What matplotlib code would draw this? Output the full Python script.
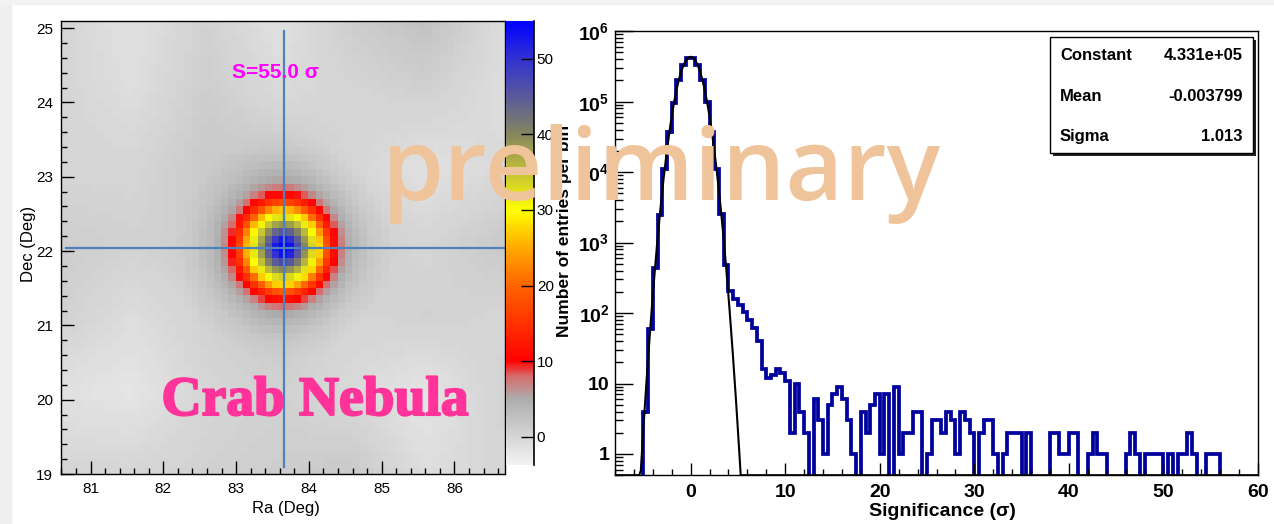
import numpy as np
import matplotlib.pyplot as plt
import matplotlib.patheffects as pe
from matplotlib.colors import LinearSegmentedColormap, Normalize
from matplotlib.patches import Rectangle
from matplotlib.ticker import MultipleLocator, LogLocator, NullFormatter

plt.rcParams['font.family'] = ['Liberation Sans', 'DejaVu Sans']
plt.rcParams['mathtext.fontset'] = 'custom'
plt.rcParams['mathtext.rm'] = 'Liberation Sans'
plt.rcParams['mathtext.bf'] = 'Liberation Sans:bold'

W, H = 1274, 524

# ---------------- sky map around the Crab ----------------
ra_range = (80.6, 86.7)
dec_range = (19.0, 25.1)
bin_deg = 0.1

crab_ra, crab_dec = 83.66, 22.04
peak_sigma = 55.0

# radial profile of the source excess (distance in deg -> sigma)
src_r = [0.0, 0.1, 0.2, 0.3, 0.4, 0.5, 0.55, 0.62, 0.7, 0.78, 0.88, 1.0, 1.2, 1.5]
src_sig = [55.0, 52, 45, 38, 32, 26, 21, 15, 10, 6.5, 4, 2.5, 1, 0]

# slowly varying background significance, coarse nodes (rows from top)
bg_ra = [80.6, 81.6, 82.6, 83.6, 84.6, 85.6, 86.7]
bg_dec = [25.1, 24.1, 23.1, 22.1, 21.1, 20.1, 19.0]
bg_sig = [
    [0.0, -1.5, 0.5, -1.5, 1.0, 2.5, -1.0],
    [0.0, -1.0, 1.0, -0.5, 0.0, 0.5, -1.0],
    [0.0, 0.0, 1.5, 2.0, 0.0, -1.5, -0.5],
    [1.0, 0.5, 1.0, 1.0, 1.0, 0.0, 1.5],
    [0.5, -1.0, 0.5, 1.5, 0.0, 0.5, 0.0],
    [-1.5, -2.0, 0.0, 0.5, -0.5, -2.0, 0.5],
    [0.0, 0.0, 0.5, 1.0, 1.5, -1.0, 0.0],
]

# palette of the significance scale
cmap_levels = [-3.7, 0, 5, 8, 10, 15, 20, 25, 30, 35, 40, 45, 50, 55]
cmap_colors = ['#f2f2f2', '#d5d5d5', '#adadad', '#d86a6a', '#ff0000', '#ff3200',
               '#ff6400', '#ffaa00', '#ffff00', '#c4c236', '#86865e', '#5a5a9a',
               '#3232d2', '#0000ff']
cbar_ticks = [0, 10, 20, 30, 40, 50]

# ---------------- significance distribution ----------------
sig_lo = -8.0
sig_bin = 0.5
counts = np.array([
    0, 0, 0, 0, 0, 0, 4, 60, 440, 2500,                                  # -8.0 .. -3.5
    10900, 36800, 97000, 202000, 330000, 420000, 420000, 329000, 202000, 97500,  # -3.0 .. 1.5
    36700, 10900, 2550, 480, 205, 160, 130, 105, 80, 62,                 # 2.0 .. 6.5
    40, 16, 12, 13, 16, 14, 11, 2, 10, 4,                                # 7.0 .. 11.5
    2, 0, 6, 3, 1, 5, 7, 9, 6, 3,                                        # 12.0 .. 16.5
    1, 0, 4, 2, 5, 7, 1, 7, 0, 9,                                        # 17.0 .. 21.5
    1, 2, 2, 4, 4, 0, 1, 3, 3, 2,                                        # 22.0 .. 26.5
    4, 3, 1, 4, 3, 2, 0, 2, 3, 3,                                        # 27.0 .. 31.5
    1, 0, 1, 2, 2, 2, 0, 2, 0, 0,                                        # 32.0 .. 36.5
    0, 0, 2, 2, 1, 1, 2, 2, 0, 0,                                        # 37.0 .. 41.5
    1, 2, 1, 1, 0, 0, 0, 0, 1, 2,                                        # 42.0 .. 46.5
    1, 0, 1, 1, 1, 1, 0, 1, 0, 1,                                        # 47.0 .. 51.5
    1, 2, 1, 0, 0, 1, 1, 1, 0, 0,                                        # 52.0 .. 56.5
    0, 0, 0, 0, 0, 0,                                                    # 57.0 .. 59.5
], dtype=float)

fit_constant = 4.331e5
fit_mean = -0.003799
fit_sigma = 1.013


def box(x0, y0, x1, y1):
    # pixel box -> figure fraction
    return [x0 / W, 1 - y1 / H, (x1 - x0) / W, (y1 - y0) / H]


def px(x, y):
    return x / W, 1 - y / H


fig = plt.figure(figsize=(W / 100, H / 100), dpi=100)
fig.patches.append(Rectangle((0, 0), 11 / W, 1, transform=fig.transFigure,
                             color='#efefef', zorder=-10))
fig.patches.append(Rectangle((0, 1 - 4 / H), 1, 4 / H, transform=fig.transFigure,
                             color='#f3f3f3', zorder=-10))

ax1 = fig.add_axes(box(61.4, 20.7, 505.4, 474))
cax = fig.add_axes(box(506, 20.7, 534, 465))
ax2 = fig.add_axes(box(615, 31.2, 1258, 475.2))

# build the map on 0.1 deg bins
n_ra = int(round((ra_range[1] - ra_range[0]) / bin_deg))
n_dec = int(round((dec_range[1] - dec_range[0]) / bin_deg))
ra_c = ra_range[0] + bin_deg * (np.arange(n_ra) + 0.5)
dec_c = dec_range[0] + bin_deg * (np.arange(n_dec) + 0.5)

dec_nodes = np.array(bg_dec[::-1])
bg_rows = np.array(bg_sig)[::-1]
bg_x = np.array([np.interp(ra_c, bg_ra, row) for row in bg_rows])
bg_map = np.array([np.interp(dec_c, dec_nodes, bg_x[:, j]) for j in range(n_ra)]).T

RA, DEC = np.meshgrid(ra_c, dec_c)
dist = np.hypot(RA - crab_ra, DEC - crab_dec)
sig_map = bg_map + np.interp(dist, src_r, src_sig)

cmap = LinearSegmentedColormap.from_list(
    'sig', [((v - cmap_levels[0]) / (cmap_levels[-1] - cmap_levels[0]), c)
            for v, c in zip(cmap_levels, cmap_colors)])
norm = Normalize(vmin=cmap_levels[0], vmax=cmap_levels[-1])

im = ax1.imshow(sig_map, origin='lower', extent=[*ra_range, *dec_range],
                aspect='auto', cmap=cmap, norm=norm, interpolation='nearest')
ax1.set_xlim(*ra_range)
ax1.set_ylim(*dec_range)

ax1.axvline(crab_ra, ymin=0.1 / 6.1, ymax=5.96 / 6.1, color='#4f81bd', lw=1.6)
ax1.axhline(crab_dec, xmin=0.07 / 6.1, xmax=6.09 / 6.1, color='#4f81bd', lw=1.6)

ax1.xaxis.set_major_locator(MultipleLocator(1))
ax1.xaxis.set_minor_locator(MultipleLocator(0.2))
ax1.yaxis.set_major_locator(MultipleLocator(1))
ax1.yaxis.set_minor_locator(MultipleLocator(0.2))
ax1.tick_params(which='both', direction='in', top=False, right=False,
                labelsize=11, width=1)
ax1.tick_params(which='major', length=9.5, pad=6)
ax1.tick_params(which='minor', length=4.6)
for s in ax1.spines.values():
    s.set_linewidth(1)

cb = fig.colorbar(im, cax=cax)
cb.outline.set_visible(False)
cb.set_ticks(cbar_ticks)
cax.yaxis.set_ticks_position('right')
cax.tick_params(direction='in', length=9.5, width=1, labelsize=11, pad=2)
cax.axvline(1, color='k', lw=1.2, clip_on=False)

fig.text(*px(28, 244), 'Dec (Deg)', rotation=90, ha='center', va='center', fontsize=12)
fig.text(*px(286, 508), 'Ra (Deg)', ha='center', va='center', fontsize=12)
fig.text(*px(276, 73), f'S={peak_sigma:.1f} σ', ha='center', va='center',
         fontsize=15, fontweight='bold', color='#ff00ff')
fig.text(*px(315, 415), 'Crab Nebula', ha='center', va='baseline', fontsize=40,
         fontweight='bold', family=['Liberation Serif', 'DejaVu Serif'], color='#ff3399',
         path_effects=[pe.withStroke(linewidth=1.5, foreground='#ff3399')])
fig.text(*px(565, 231), 'Number of entries per bin', rotation=90, ha='center',
         va='center', fontsize=12.5, fontweight='bold')

# ---------------- histogram of significances ----------------
edges = sig_lo + sig_bin * np.arange(len(counts) + 1)
shown = np.where(counts > 0, counts, 0.05)   # empty bins fall below the frame
ax2.stairs(shown, edges, baseline=None, color='#00009c', lw=2.7)

fit_x = np.linspace(edges[0], edges[-1], 400)
fit_y = fit_constant * np.exp(-0.5 * ((fit_x - fit_mean) / fit_sigma) ** 2)
ax2.plot(fit_x, np.clip(fit_y, 0.5, None), color='k', lw=1.5)

ax2.set_yscale('log')
ax2.set_xlim(edges[0], edges[-1])
ax2.set_ylim(0.5, 1e6)
ax2.xaxis.set_major_locator(MultipleLocator(10))
ax2.xaxis.set_minor_locator(MultipleLocator(2))
ax2.set_yticks([1, 10, 1e2, 1e3, 1e4, 1e5, 1e6],
               labels=['1', '10'] + [r'$\mathbf{10^{%d}}$' % k for k in range(2, 7)])
ax2.yaxis.set_minor_locator(LogLocator(base=10, subs=np.arange(2, 10), numticks=20))
ax2.yaxis.set_minor_formatter(NullFormatter())
ax2.tick_params(which='both', direction='in', top=False, right=False, width=1,
                labelsize=14)
ax2.tick_params(axis='x', which='major', length=8.6, pad=6)
ax2.tick_params(axis='x', which='minor', length=4.3)
ax2.tick_params(axis='y', which='major', length=13, pad=4)
ax2.tick_params(axis='y', which='minor', length=6)
for lab in ax2.get_xticklabels() + ax2.get_yticklabels():
    lab.set_fontweight('bold')
for s in ax2.spines.values():
    s.set_linewidth(1)

fig.text(*px(942, 511), 'Significance (σ)', ha='center', va='center',
         fontsize=14, fontweight='bold')

# fit statistics box with drop shadow
bx0, bx1 = (1050 - 615) / 643, (1253 - 615) / 643
by0, by1 = (475.2 - 153) / 444, (475.2 - 37) / 444
ax2.add_patch(Rectangle((bx0 + 0.005, by0 - 0.007), bx1 - bx0, by1 - by0,
                        transform=ax2.transAxes, facecolor='#222222', lw=0,
                        clip_on=False, zorder=5))
ax2.add_patch(Rectangle((bx0, by0), bx1 - bx0, by1 - by0, transform=ax2.transAxes,
                        facecolor='white', edgecolor='black', lw=1, clip_on=False,
                        zorder=6))
stats = [('Constant', f'{fit_constant:.3e}'),
         ('Mean', f'{fit_mean:g}'),
         ('Sigma', f'{fit_sigma:g}')]
for (name, val), yy in zip(stats, [55, 96, 136]):
    ty = (475.2 - yy) / 444
    ax2.text((1060 - 615) / 643, ty, name, transform=ax2.transAxes, ha='left',
             va='center', fontsize=12, fontweight='bold', zorder=7)
    ax2.text((1243 - 615) / 643, ty, val, transform=ax2.transAxes, ha='right',
             va='center', fontsize=12, fontweight='bold', zorder=7)

# watermark across both panels
fig.text(*px(661, 200), 'preliminary', ha='center', va='baseline', fontsize=72,
         fontweight='semibold', family=['Open Sans', 'DejaVu Sans'],
         color='#f0c49a', zorder=10)

fig.savefig('out.png', dpi=100)
